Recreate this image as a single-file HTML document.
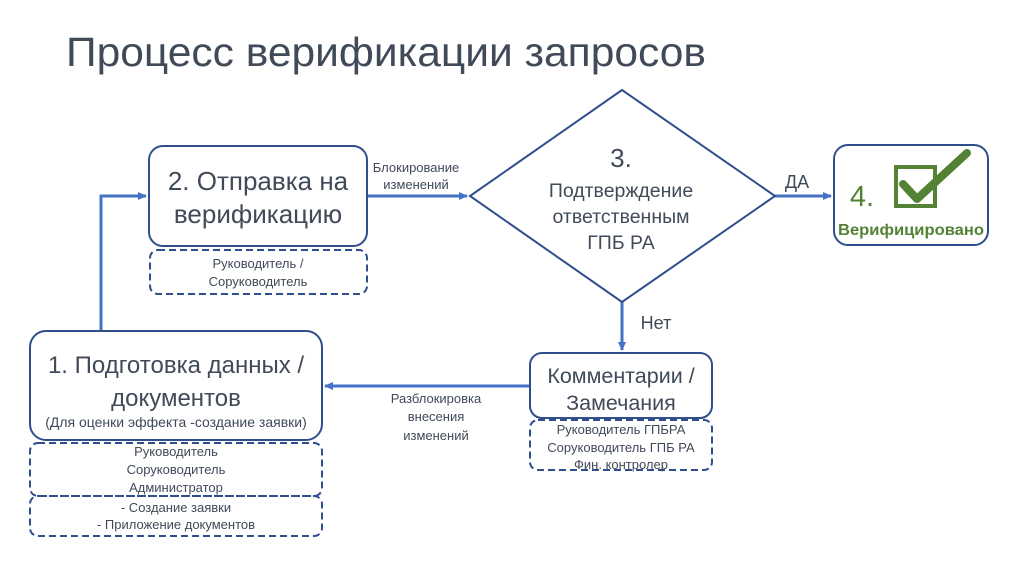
<!DOCTYPE html>
<html><head><meta charset="utf-8"><style>
body{margin:0;background:#fff;}
svg{display:block;font-family:"Liberation Sans","DejaVu Sans",sans-serif;}
</style></head><body>
<svg width="1024" height="574" viewBox="0 0 1024 574" xmlns="http://www.w3.org/2000/svg">
<defs>
<marker id="ar" markerWidth="10" markerHeight="10" refX="8" refY="5" orient="auto" markerUnits="userSpaceOnUse">
<path d="M0,1 L9,5 L0,9 Z" fill="#4472c4"/>
</marker>
</defs>
<text x="66" y="66" font-size="41" fill="#404a59" textLength="640" lengthAdjust="spacingAndGlyphs">Процесс верификации запросов</text>

<g stroke="#4472c4" stroke-width="3" fill="none">
<path d="M101,331 V196 H146" marker-end="url(#ar)"/>
<path d="M367,196 H467" marker-end="url(#ar)"/>
<path d="M775,196 H831" marker-end="url(#ar)"/>
<path d="M622,302 V350" marker-end="url(#ar)"/>
<path d="M530,386 H325" marker-end="url(#ar)"/>
</g>

<g stroke="#2f4e8c" stroke-width="2" fill="#fff">
<rect x="149" y="146" width="218" height="100" rx="14"/>
<rect x="30" y="331" width="292" height="109" rx="16"/>
<rect x="530" y="353" width="182" height="65" rx="12"/>
<rect x="834" y="145" width="154" height="100" rx="14"/>
<polygon points="470,196 622,90 775,196 622,302"/>
</g>
<g stroke="#2f4e8c" stroke-width="2" fill="none" stroke-dasharray="7,4">
<rect x="150" y="250" width="217" height="44" rx="8"/>
<rect x="30" y="443" width="292" height="53" rx="8"/>
<rect x="30" y="496" width="292" height="40" rx="8"/>
<rect x="530" y="420" width="182" height="50" rx="8"/>
</g>

<g fill="#404a59" text-anchor="middle">
<text x="258" y="190" font-size="26">2. Отправка на</text>
<text x="258" y="223" font-size="26">верификацию</text>
<text x="258" y="268" font-size="13">Руководитель /</text>
<text x="258" y="286" font-size="13">Соруководитель</text>

<text x="176" y="373" font-size="24">1. Подготовка данных /</text>
<text x="176" y="406" font-size="24">документов</text>
<text x="176" y="427" font-size="14">(Для оценки эффекта -создание заявки)</text>
<text x="176" y="456" font-size="13">Руководитель</text>
<text x="176" y="474" font-size="13">Соруководитель</text>
<text x="176" y="492" font-size="13">Администратор</text>
<text x="176" y="512" font-size="13">- Создание заявки</text>
<text x="176" y="529" font-size="13">- Приложение документов</text>

<text x="621" y="167" font-size="26">3.</text>
<text x="621" y="197" font-size="19.5">Подтверждение</text>
<text x="621" y="223" font-size="19.5">ответственным</text>
<text x="621" y="249" font-size="19.5">ГПБ РА</text>

<text x="621" y="383" font-size="21.5">Комментарии /</text>
<text x="621" y="410" font-size="21.5">Замечания</text>
<text x="621" y="434" font-size="13">Руководитель ГПБРА</text>
<text x="621" y="452" font-size="13">Соруководитель ГПБ РА</text>
<text x="621" y="469" font-size="13">Фин. контролер</text>

<text x="416" y="172" font-size="13">Блокирование</text>
<text x="416" y="189" font-size="13">изменений</text>
<text x="436" y="403" font-size="13">Разблокировка</text>
<text x="436" y="421" font-size="13">внесения</text>
<text x="436" y="440" font-size="13">изменений</text>
<text x="656" y="329" font-size="18">Нет</text>
<text x="797" y="188" font-size="18">ДА</text>
</g>

<text x="862" y="206" font-size="29" fill="#548235" text-anchor="middle">4.</text>
<rect x="896" y="167" width="39" height="39" fill="none" stroke="#548235" stroke-width="4"/>
<path d="M903,184 L917,199 L967,153" fill="none" stroke="#548235" stroke-width="8" stroke-linecap="round" stroke-linejoin="round"/>
<text x="911" y="235" font-size="16" font-weight="bold" fill="#548235" text-anchor="middle" textLength="146" lengthAdjust="spacingAndGlyphs">Верифицировано</text>
</svg>
</body></html>
